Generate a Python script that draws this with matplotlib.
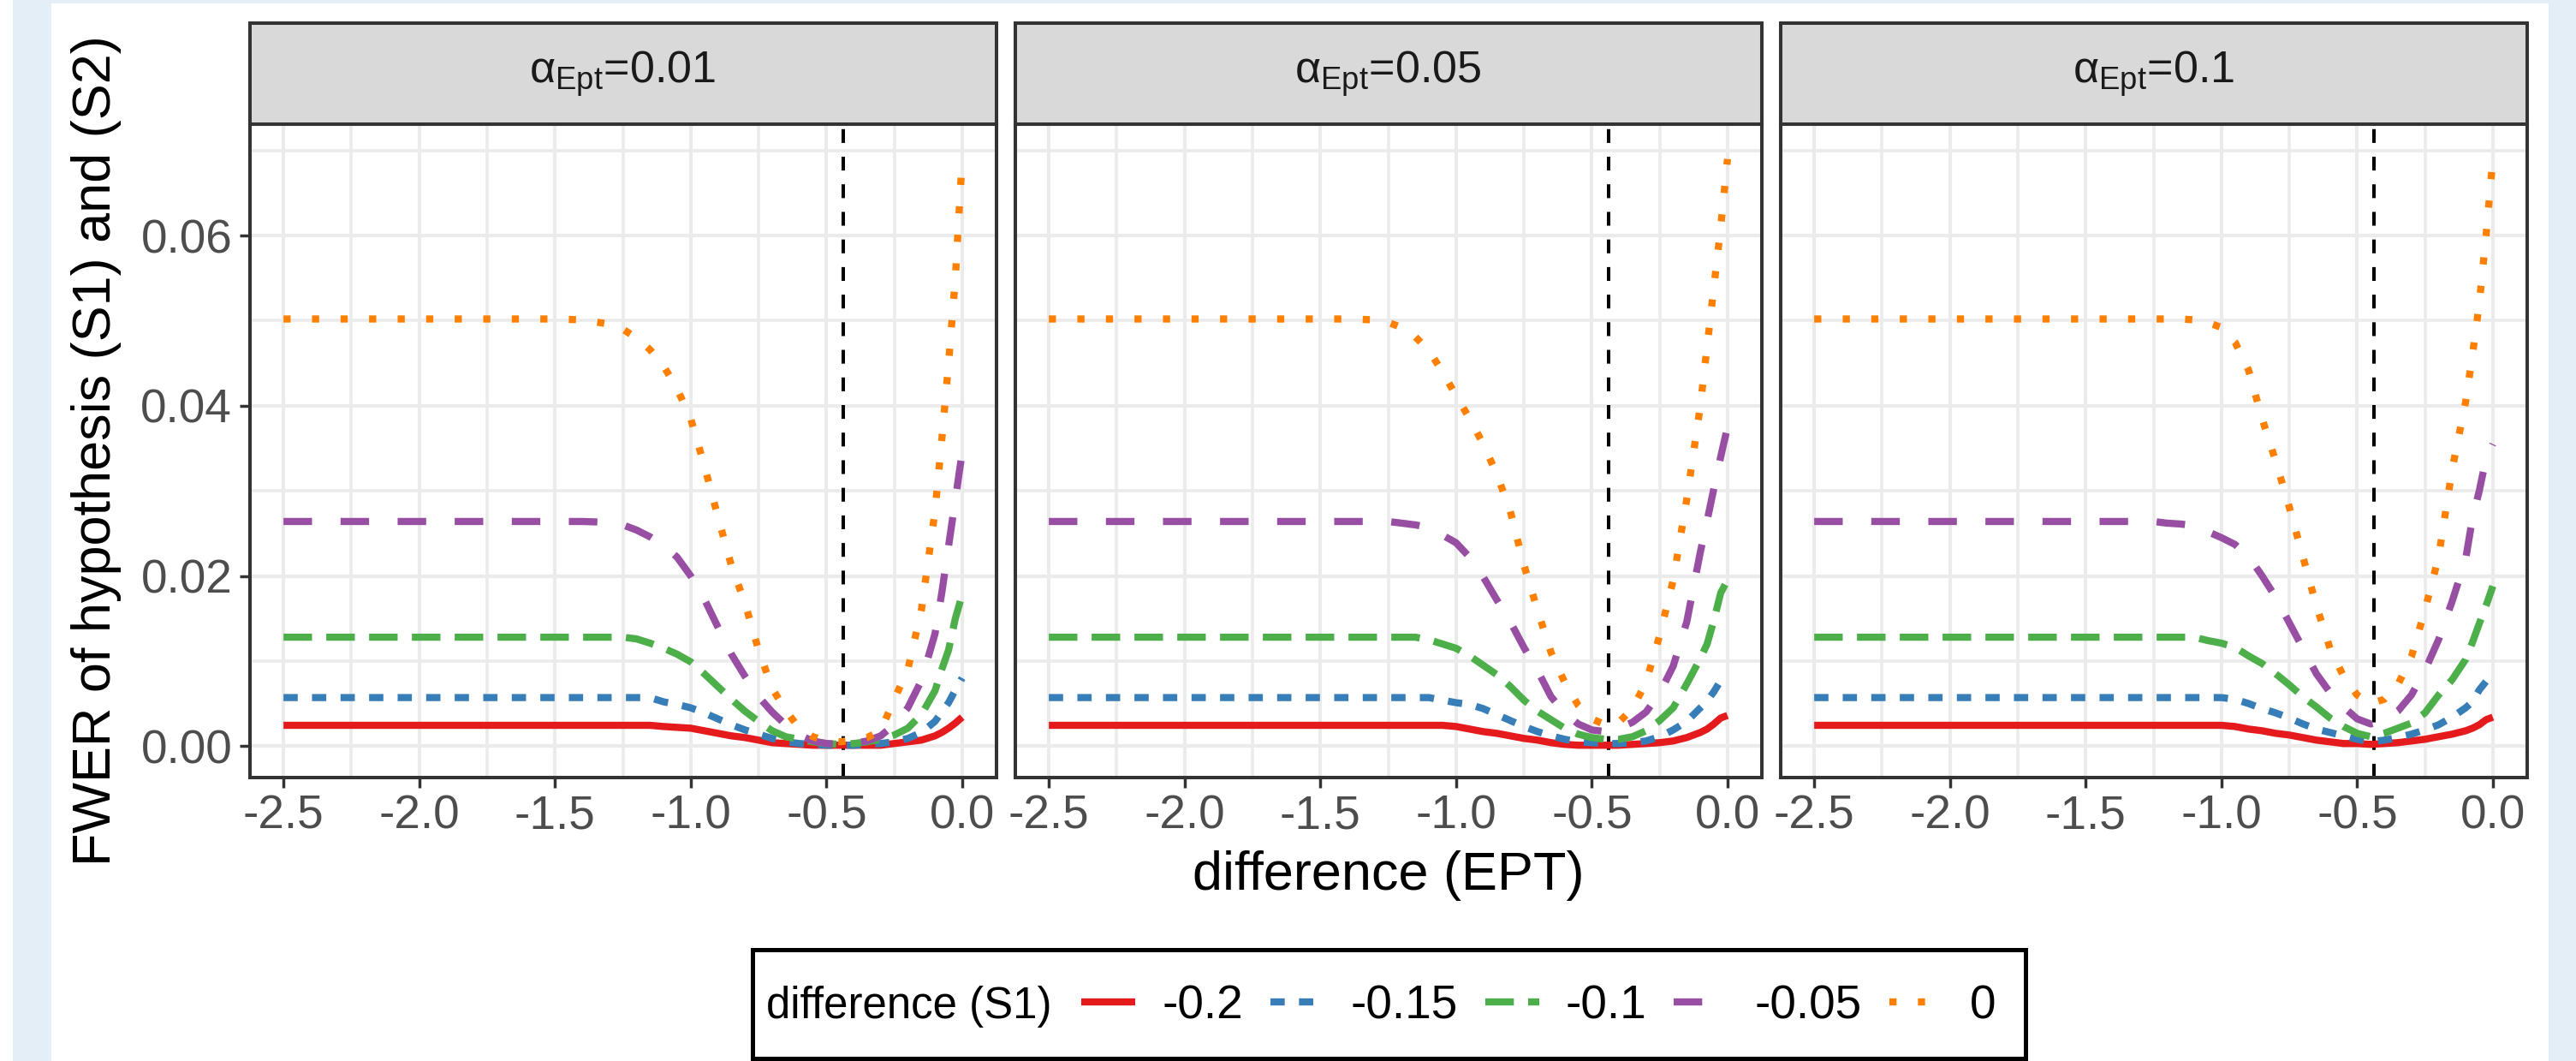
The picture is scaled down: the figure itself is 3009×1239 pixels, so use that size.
import matplotlib
matplotlib.use("Agg")
import matplotlib.pyplot as plt
from matplotlib.patches import Rectangle

# Schriften wie im R-Plot (Arial -> Liberation Sans)
plt.rcParams['font.family'] = ['Liberation Sans', 'DejaVu Sans']
plt.rcParams['mathtext.fontset'] = 'custom'
plt.rcParams['mathtext.rm'] = 'Liberation Sans'
plt.rcParams['mathtext.it'] = 'Liberation Sans:italic'
plt.rcParams['axes.unicode_minus'] = False

W, H, DPI = 3009, 1239, 100

# Daten
x_ept = [-2.5, -1.5, -1.4, -1.3, -1.25, -1.2, -1.15, -1.1, -1.05, -1.0, -0.95, -0.9,
         -0.85, -0.8, -0.75, -0.7, -0.65, -0.6, -0.55, -0.5, -0.45, -0.4, -0.35, -0.3,
         -0.25, -0.2, -0.15, -0.1, -0.075, -0.05, -0.025, 0.0]
alpha_ept = ['0.01', '0.05', '0.1']
s1_labels = ['-0.2', '-0.15', '-0.1', '-0.05', '0']
cutoff_ept = [-0.437, -0.437, -0.437]

# alpha_Ept = 0.01
fwer_001 = [
    [.00244, .00244, .00244, .00244, .00244, .00244, .00244, .0023, .0022, .0021, .0018, .0015,
     .0012, .0010, .0007, .0004, .0003, .0002, .0001, .0001, .0001, .0001, .0001, .0001,
     .0003, .0005, .0007, .0012, .0016, .0021, .0027, .0034],
    [.0057, .0057, .0057, .0057, .0057, .0057, .0057, .0052, .0049, .0045, .0039, .0032,
     .0025, .0019, .0014, .0009, .0005, .0003, .0002, .0001, .0001, .0001, .0002, .0003,
     .0005, .0009, .0016, .0029, .0040, .0051, .0066, .0080],
    [.0128, .0128, .0128, .0128, .0128, .0126, .0121, .0115, .0108, .0099, .0085, .0070,
     .0055, .0041, .0029, .0018, .0011, .0008, .0005, .0003, .0002, .0003, .0005, .0008,
     .0013, .0021, .0037, .0065, .0090, .0113, .0150, .0178],
    [.0264, .0264, .0264, .0263, .0260, .0254, .0246, .0236, .0222, .0200, .0173, .0140,
     .0108, .0082, .0058, .0040, .0025, .0013, .0006, .0003, .0002, .0003, .0006, .0012,
     .0025, .0045, .0077, .0132, .0180, .0235, .0290, .0345],
    [.0502, .0502, .0501, .0496, .0490, .0480, .0466, .0447, .0420, .0385, .0330, .0270,
     .0212, .0168, .0113, .0068, .0042, .0021, .0011, .0006, .0005, .0007, .0010, .0018,
     .0055, .0090, .0160, .0276, .0360, .0450, .0550, .0690],
]

# alpha_Ept = 0.05
fwer_005 = [
    [.00244, .00244, .00244, .00244, .00244, .00244, .00244, .00244, .00244, .0023, .0020, .0017,
     .0015, .0012, .0009, .0007, .0004, .0002, .0001, .0001, .0001, .0001, .0002, .0003,
     .0004, .0006, .0010, .0016, .0020, .0026, .0033, .0036],
    [.0057, .0057, .0057, .0057, .0057, .0057, .0057, .0057, .0054, .0051, .0049, .0044,
     .0037, .0030, .0023, .0017, .0012, .0008, .0005, .0004, .0003, .0003, .0004, .0006,
     .0011, .0019, .0029, .0045, .0053, .0064, .0077, .0085],
    [.0128, .0128, .0128, .0128, .0128, .0128, .0128, .0125, .0120, .0115, .0106, .0095,
     .0084, .0070, .0054, .0041, .0031, .0021, .0014, .0010, .0008, .0008, .0011, .0018,
     .0030, .0045, .0073, .0103, .0120, .0148, .0180, .0195],
    [.0264, .0264, .0264, .0264, .0264, .0262, .0260, .0257, .0248, .0239, .0222, .0199,
     .0172, .0146, .0116, .0089, .0058, .0039, .0026, .0019, .0017, .0021, .0028, .0040,
     .0062, .0094, .0146, .0228, .0265, .0303, .0340, .0375],
    [.0502, .0502, .0502, .0501, .0498, .0492, .0481, .0465, .0440, .0412, .0385, .0355,
     .0320, .0276, .0213, .0160, .0110, .0075, .0048, .0032, .0025, .0028, .0044, .0075,
     .0130, .0195, .0290, .0400, .0470, .0540, .0610, .0690],
]

# alpha_Ept = 0.1
fwer_01 = [
    [.00244, .00244, .00244, .00244, .00244, .00244, .00244, .00244, .00244, .00244, .0023, .0020,
     .0018, .0015, .0013, .0010, .0007, .0005, .0003, .0003, .0002, .0003, .0004, .0006,
     .0008, .0011, .0014, .0018, .0021, .0025, .0031, .0034],
    [.0057, .0057, .0057, .0057, .0057, .0057, .0057, .0057, .0057, .0057, .0055, .0050,
     .0044, .0039, .0033, .0026, .0020, .0016, .0012, .0008, .0005, .0007, .0010, .0014,
     .0019, .0025, .0034, .0045, .0052, .0066, .0076, .0086],
    [.0128, .0128, .0128, .0128, .0128, .0128, .0128, .0128, .0124, .0121, .0116, .0106,
     .0097, .0085, .0072, .0058, .0046, .0033, .0023, .0015, .0011, .0015, .0021, .0027,
     .0039, .0060, .0078, .0102, .0122, .0144, .0165, .0188],
    [.0264, .0264, .0264, .0264, .0264, .0262, .0261, .0259, .0252, .0245, .0237, .0223,
     .0200, .0175, .0145, .0115, .0085, .0063, .0046, .0032, .0026, .0030, .0041, .0060,
     .0089, .0125, .0170, .0220, .0268, .0300, .0338, .0355],
    [.0502, .0502, .0502, .0502, .0502, .0502, .0502, .0501, .0498, .0492, .0475, .0442,
     .0385, .0335, .0281, .0223, .0165, .0115, .0082, .0060, .0050, .0055, .0072, .0105,
     .0160, .0222, .0325, .0405, .0460, .0520, .0600, .0690],
]
fwer_all = [fwer_001, fwer_005, fwer_01]

# Stil (ggplot Set1 + Standard-Linientypen)
farben = ['#E41A1C', '#377EB8', '#4DAF4A', '#984EA3', '#FF7F00']
striche = [None, (2, 2), (4, 2), (4, 4), (1, 3)]
lw_kurve = 6.0
lw_rahmen = 2.9
grau20 = '#333333'
grau30 = '#4D4D4D'
gitter = '#EBEBEB'

fig = plt.figure(figsize=(W / DPI, H / DPI), dpi=DPI)
fig.patch.set_facecolor('white')
fig.add_artist(Rectangle((15 / W, 0), 1 - 15 / W, 1, transform=fig.transFigure,
                         fc='#E4EEF7', ec='none', zorder=-20))
fig.add_artist(Rectangle((60 / W, 0), (2977 - 60) / W, 1 - 4 / H, transform=fig.transFigure,
                         fc='white', ec='none', zorder=-19))

# Panel-Geometrie in Pixeln
links = [291.5, 1185.5, 2079.5]
breite = 872
oben, unten = 145, 907.5
strip_h = (oben - 26.7) / (unten - oben)

handles = []
for i, ax_left in enumerate(links):
    ax = fig.add_axes([ax_left / W, 1 - unten / H, breite / W, (unten - oben) / H])
    ax.set_xlim(-2.625, 0.125)
    ax.set_ylim(-0.00365, 0.0731)
    ax.set_xticks([-2.5, -2.0, -1.5, -1.0, -0.5, 0.0])
    ax.set_xticklabels(['-2.5', '-2.0', '-1.5', '-1.0', '-0.5', '0.0'])
    ax.set_xticks([-2.25, -1.75, -1.25, -0.75, -0.25], minor=True)
    ax.set_yticks([0.0, 0.02, 0.04, 0.06])
    ax.set_yticks([0.01, 0.03, 0.05, 0.07], minor=True)
    if i == 0:
        ax.set_yticklabels(['0.00', '0.02', '0.04', '0.06'])
    else:
        ax.tick_params(axis='y', which='both', left=False, labelleft=False)
    ax.grid(True, which='major', color=gitter, lw=3.0, zorder=0)
    ax.grid(True, which='minor', color=gitter, lw=2.6, zorder=0)
    ax.set_axisbelow(True)
    ax.tick_params(axis='both', which='major', length=8.6, width=2.5, color=grau20,
                   labelsize=39.6, labelcolor=grau30, pad=6)
    ax.tick_params(axis='both', which='minor', length=0)
    for sp in ax.spines.values():
        sp.set_color(grau20)
        sp.set_linewidth(lw_rahmen)
        sp.set_zorder(10)

    ax.axvline(cutoff_ept[i], color='black', lw=2.9, dashes=(4, 4), zorder=1)

    for k, werte in enumerate(fwer_all[i]):
        ln, = ax.plot(x_ept, werte, color=farben[k], lw=lw_kurve, zorder=2 + k,
                      solid_capstyle='butt', dash_capstyle='butt', label=s1_labels[k])
        if striche[k] is not None:
            ln.set_dashes(striche[k])
        if i == 0:
            handles.append(ln)

    # Facetten-Streifen
    ax.add_patch(Rectangle((0, 1), 1, strip_h, transform=ax.transAxes, clip_on=False,
                           fc='#D9D9D9', ec=grau20, lw=lw_rahmen, zorder=11))
    ax.text(0.5, 1 + strip_h / 2, r'$\mathrm{α}_{\mathrm{Ept}}$=' + alpha_ept[i],
            transform=ax.transAxes, ha='center', va='center', fontsize=37.5,
            color='#1A1A1A', zorder=12)

# Achsentitel
fig.text(1622 / W, 1 - 1023 / H, 'difference (EPT)', ha='center', va='center',
         fontsize=45.4, color='black')
fig.text(113 / W, 1 - 526 / H, 'FWER of hypothesis (S1) and (S2)', rotation=90,
         ha='center', va='center', fontsize=45.4, color='black')

# Legende unten
fig.legend(handles, s1_labels, loc='center left', bbox_to_anchor=(1263 / W, 1 - 1175 / H),
           ncol=5, frameon=False, fontsize=39.6, handlelength=1.15, handletextpad=0.56,
           columnspacing=0.58, borderpad=0, borderaxespad=0)
fig.text(895 / W, 1 - 1175 / H, 'difference (S1)', ha='left', va='center',
         fontsize=36.7, color='black')
fig.add_artist(Rectangle((879 / W, 1 - 1236 / H), (2366 - 879) / W, (1236 - 1109) / H,
                         transform=fig.transFigure, fill=False, ec='black', lw=3.6))

fig.savefig('out.png', dpi=DPI)
